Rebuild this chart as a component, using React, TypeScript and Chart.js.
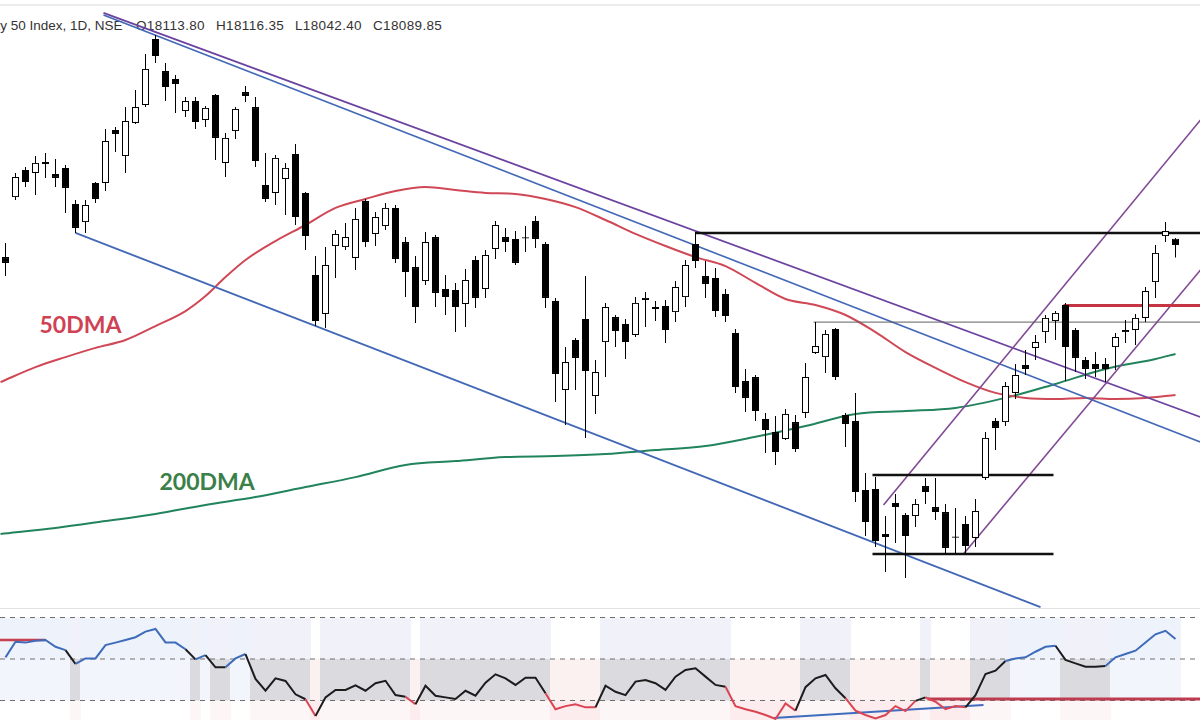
import React, { useEffect, useRef } from "react";
import { Chart, registerables } from "chart.js";
Chart.register(...registerables);

// ---- price candles (Nifty 50, daily) ----
const opens = [18044,18272,18375,18364,18398,18360,18383,18246,18177,18326,
18326,18527,18428,18554,18622,18873,18751,18721,18599,18637,
18565,18660,18402,18523,18671,18614,18318,18288,18341,18436,
18288,17976,17828,18086,18082,18041,18257,18132,18162,18231,
18101,18006,17953,18120,17923,17919,17866,18033,17923,18075,
18120,18113,18115,18181,18094,17877,17539,17729,17809,17516,
17721,17816,17790,17748,17881,17847,17858,17835,17892,18094,
17972,17965,17904,17756,17573,17588,17429,17379,17353,17417,
17452,17680,17664,17771,17444,17421,17159,17163,16992,17110,
17064,17060,17174,17094,17075,16982,17030,16977,17205,17421,
17417,17528,17634,17699,17759,17801,17862,17767,17653,17638,
17638,17702,17759,17767,17813,17949,18124,18113.8];

const highs = [18098,18364,18386,18428,18440,18417,18394,18261,18261,18329,
18531,18538,18614,18679,18816,18888,18782,18736,18652,18652,
18618,18664,18516,18614,18694,18652,18440,18432,18402,18474,
18291,18048,18082,18147,18174,18231,18265,18215,18250,18242,
18120,18048,18139,18128,17976,17946,17999,18048,18071,18181,
18155,18143,18162,18200,18101,17889,17702,17737,17972,17653,
17870,17824,17809,17892,17911,17877,17881,17953,18033,18139,
18029,18003,17923,17771,17619,17596,17452,17440,17467,17444,
17642,17797,17767,17775,17452,17528,17224,17208,17060,17144,
17072,17125,17205,17205,17106,17091,17060,17125,17379,17433,
17569,17638,17691,17748,17824,17839,17870,17775,17664,17683,
17661,17756,17805,17828,17930,18090,18177,18116.35];

const lows = [17972,18261,18310,18280,18345,18310,18212,18136,18136,18250,
18295,18443,18364,18550,18614,18782,18637,18592,18576,18531,
18538,18413,18348,18493,18633,18386,18253,18242,18204,18166,
18071,17782,17775,17965,18071,17995,18082,18086,18147,18022,
17892,17794,17938,17854,17824,17759,17778,17851,17889,18037,
18063,18014,18063,18079,17851,17493,17406,17539,17357,17448,
17588,17702,17657,17740,17778,17801,17718,17797,17854,18003,
17889,17816,17797,17528,17455,17421,17300,17254,17349,17303,
17433,17676,17604,17577,17322,17113,16984,16942,16847,16958,
16825,17018,17106,17045,16916,16916,16916,16942,17197,17311,
17402,17505,17596,17653,17718,17729,17573,17607,17581,17588,
17569,17615,17718,17710,17797,17889,18101,18042.4];

const closes = [18022,18348,18329,18402,18405,18345,18307,18155,18242,18265,
18485,18512,18561,18614,18759,18808,18690,18702,18637,18557,
18611,18497,18497,18607,18656,18409,18265,18421,18383,18196,
18124,17801,18014,18132,18120,18189,18101,18196,18231,18037,
17987,17854,18101,17908,17892,17854,17957,17889,18052,18166,
18101,18022,18119,18113,17889,17600,17645,17661,17611,17607,
17854,17763,17721,17870,17889,17854,17767,17930,18014,18029,
17942,17839,17820,17550,17509,17459,17387,17303,17448,17315,
17588,17706,17752,17588,17410,17151,17037,16965,16980,17094,
16984,17106,17151,17075,16939,16978,16946,17079,17357,17395,
17554,17596,17619,17721,17813,17832,17702,17661,17619,17619,
17619,17740,17767,17813,17915,18060,18143,18089.85];

// ---- moving averages, sampled along the bar index ----
const ma50Index = [-0.5,3,6,9,12,15,18,20,22,24,27,30,33,36,39,42,45,48,51,54,57,60,63,66,69,72,75,78,81,84,87,90,93,96,99,102,105,108,111,114,117];
const ma50Values = [17569,17626,17664,17699,17729,17782,17839,17896,17968,18033,18105,18166,18231,18265,18295,18310,18299,18288,18284,18265,18234,18185,18132,18086,18044,18010,17946,17885,17862,17824,17759,17683,17623,17569,17528,17509,17505,17509,17505,17509,17520];
const ma200Index = [-0.5,5,10,15,20,25,30,35,40,45,50,55,60,65,70,75,80,85,90,95,100,105,110,115,117];
const ma200Values = [16992,17015,17041,17068,17102,17132,17170,17208,17254,17269,17284,17288,17296,17311,17326,17361,17402,17448,17459,17471,17509,17562,17619,17657,17676];

// ---- RSI (14) ----
const rsiValues = [60.8,68.3,67.9,68.8,69.2,65.9,64.3,57.6,60.3,60.3,
66.7,67.9,69.2,70.5,73.2,74.5,68.0,67.9,64.7,59.8,
61.9,56.0,56.0,60.3,62.4,50.4,44.7,50.7,49.4,43.0,
40.6,32.5,41.5,45.1,45.1,47.3,44.7,48.3,49.5,42.6,
41.8,38.2,47.1,42.3,41.5,40.7,44.7,42.3,48.6,52.6,
50.7,47.5,51.0,51.0,43.5,35.8,37.3,38.2,36.7,36.7,
47.1,44.2,42.6,49.1,49.9,48.3,45.1,51.5,54.7,55.5,
51.5,47.5,46.6,37.3,35.8,34.6,33.0,31.1,38.6,35.1,
46.4,50.7,52.3,45.9,41.1,35.1,33.0,31.4,33.0,37.3,
34.9,39.8,41.5,39.4,35.8,37.3,36.7,42.6,52.8,54.4,
59.0,60.2,60.8,63.5,65.9,66.4,59.6,57.9,56.3,56.3,
56.6,60.8,62.4,64.0,68.0,71.9,73.6,69.6];
const rsiLevels = [80, 60, 40];

// ---- drawn lines: [startIndex, startValue, endIndex, endValue] ----
const upperPurpleLine = [9.8, 18972, 119.5, 17436];
const upperBlueLine = [9.8, 18964, 119.5, 17341];
const lowerBlueLine = [7, 18136, 103.5, 16714];
const channelTop = [87.8, 17102, 119.5, 18565];
const channelBottom = [95.8, 16916, 119.5, 17995];
const resistanceLine = [69, 18136, 119.5, 18136];
const rangeTop = [86.7, 17216, 104.8, 17216];
const rangeBottom = [86.7, 16916, 104.8, 16916];
const thinLevel = [80.8, 17797, 119.5, 17797];
const redLevel = [105.8, 17860, 119.5, 17860];
const rsiRedLeft = [-0.6, 69.2, 4, 69.2];
const rsiRedRight = [92.2, 40.7, 119.5, 40.7];
const rsiBlueLine = [76.8, 31.6, 97.8, 37.8];

// header values
const headerName = "Nifty 50 Index, 1D, NSE";
const headerOHLC = ["O18113.80", "H18116.35", "L18042.40", "C18089.85"];

// ---- view ----
const X_MIN = -0.55, X_MAX = 119.45;
const P_MIN = 16706.8, P_MAX = 19021;
const R_MIN = 30.6, R_MAX = 84.1;

const seg = (p: number[], color: string, width: number, order: number, dash: number[] = []) => ({
  type: "line",
  data: [{ x: p[0], y: p[1] }, { x: p[2], y: p[3] }],
  borderColor: color,
  borderWidth: width,
  borderDash: dash,
  pointRadius: 0,
  tension: 0,
  fill: false,
  order,
});

const xScale = { type: "linear", min: X_MIN, max: X_MAX, display: false, offset: false };

const rsiState = (v: number) => (v > 60 ? 2 : v < 40 ? 0 : 1);
const rsiColor = (v: number) => (v > 60 ? "rgb(62,108,186)" : v < 40 ? "rgb(220,68,84)" : "#1c1c1c");

export default function App() {
  const mainRef = useRef<HTMLCanvasElement>(null);
  const rsiRef = useRef<HTMLCanvasElement>(null);

  useEffect(() => {
    const idx = opens.map((_, i) => i);
    const main = new Chart(mainRef.current as HTMLCanvasElement, {
      type: "bar",
      data: {
        datasets: [
          {
            type: "bar",
            data: idx.map((i) => ({ x: i, y: [opens[i], closes[i]] })),
            backgroundColor: idx.map((i) => (closes[i] >= opens[i] ? "#ffffff" : "#000000")),
            borderColor: "#000000",
            borderWidth: 1,
            borderSkipped: false,
            barThickness: 7,
            grouped: false,
            minBarLength: 1,
            inflateAmount: 0,
            order: 0,
          },
          {
            type: "bar",
            data: idx.map((i) => ({ x: i, y: [lows[i], highs[i]] })),
            backgroundColor: "#000000",
            borderWidth: 0,
            barThickness: 1,
            grouped: false,
            inflateAmount: 0,
            order: 1,
          },
          seg(resistanceLine, "#111111", 2.5, 2),
          seg(rangeTop, "#111111", 2.5, 2),
          seg(rangeBottom, "#111111", 2.5, 2),
          seg(thinLevel, "rgb(95,95,95)", 1, 2),
          seg(redLevel, "rgb(196,52,66)", 3, 2),
          seg(channelTop, "rgb(128,72,148)", 1.6, 3),
          seg(channelBottom, "rgb(128,72,148)", 1.6, 3),
          seg(upperPurpleLine, "rgb(108,66,160)", 1.7, 3),
          seg(upperBlueLine, "rgb(66,104,182)", 1.7, 3),
          seg(lowerBlueLine, "rgb(66,104,182)", 1.7, 3),
          {
            type: "line",
            data: ma50Index.map((x, i) => ({ x, y: ma50Values[i] })),
            borderColor: "rgb(208,72,86)",
            borderWidth: 2,
            pointRadius: 0,
            cubicInterpolationMode: "monotone",
            fill: false,
            order: 4,
          },
          {
            type: "line",
            data: ma200Index.map((x, i) => ({ x, y: ma200Values[i] })),
            borderColor: "rgb(34,132,92)",
            borderWidth: 2,
            pointRadius: 0,
            cubicInterpolationMode: "monotone",
            fill: false,
            order: 4,
          },
        ],
      },
      options: {
        responsive: false,
        animation: false,
        events: [],
        layout: { padding: 0 },
        plugins: { legend: { display: false }, tooltip: { enabled: false } },
        scales: {
          x: xScale,
          y: { type: "linear", min: P_MIN, max: P_MAX, display: false },
        },
      },
    } as any);

    const upperBand = ["rgba(255,255,255,0)", "rgb(241,241,249)", "rgb(238,242,251)"];
    const middleBand = ["rgb(252,241,241)", "rgb(219,218,223)", "rgb(242,245,251)"];
    const lowerBand = ["rgb(252,236,237)", "rgb(253,246,246)", "rgba(255,255,255,0)"];
    const band = (lo: number, hi: number, colors: string[]) => ({
      type: "bar",
      data: idx.map((i) => ({ x: i, y: [lo, hi] })),
      backgroundColor: idx.map((i) => colors[rsiState(rsiValues[i])]),
      borderWidth: 0,
      barThickness: 11,
      grouped: false,
      inflateAmount: 0,
      order: 10,
    });

    const sub = new Chart(rsiRef.current as HTMLCanvasElement, {
      type: "bar",
      data: {
        datasets: [
          band(rsiLevels[1], rsiLevels[0], upperBand),
          band(rsiLevels[2], rsiLevels[1], middleBand),
          band(R_MIN - 5, rsiLevels[2], lowerBand),
          ...rsiLevels.map((lv) => seg([X_MIN, lv, X_MAX, lv], "rgb(110,110,110)", 1, 6, [5, 5])),
          seg(rsiRedLeft, "rgb(200,64,78)", 2.5, 3),
          seg(rsiRedRight, "rgb(190,60,80)", 3, 3),
          seg(rsiBlueLine, "rgb(62,108,190)", 2, 3),
          {
            type: "line",
            data: idx.map((i) => ({ x: i, y: rsiValues[i] })),
            borderColor: "#1c1c1c",
            borderWidth: 2,
            pointRadius: 0,
            tension: 0,
            fill: false,
            segment: { borderColor: (c: any) => rsiColor(c.p1.parsed.y) },
            order: 1,
          },
        ],
      },
      options: {
        responsive: false,
        animation: false,
        events: [],
        layout: { padding: 0 },
        plugins: { legend: { display: false }, tooltip: { enabled: false } },
        scales: {
          x: xScale,
          y: { type: "linear", min: R_MIN, max: R_MAX, display: false },
        },
      },
    } as any);

    return () => {
      main.destroy();
      sub.destroy();
    };
  }, []);

  const headerFont: React.CSSProperties = {
    position: "absolute",
    top: 18.6,
    font: "13.5px 'Liberation Sans', Arial, sans-serif",
    lineHeight: "13.5px",
    color: "#333333",
    whiteSpace: "pre",
  };
  const ohlcLeft = [136, 216, 295, 373];
  const labelFont: React.CSSProperties = {
    position: "absolute",
    font: "bold 23px Lato, sans-serif",
    lineHeight: "23px",
    whiteSpace: "pre",
  };

  return (
    <div style={{ position: "fixed", left: 0, top: 0, width: 1200, height: 720, overflow: "hidden", background: "#ffffff" }}>
      <div style={{ position: "absolute", left: 0, top: 4, width: 1200, height: 2, background: "#ececec" }} />
      <div style={{ ...headerFont, left: -20 }}>{headerName}</div>
      {headerOHLC.map((t, i) => (
        <div key={t} style={{ ...headerFont, left: ohlcLeft[i], letterSpacing: "0.35px" }}>{t}</div>
      ))}
      <div style={{ ...labelFont, left: 39.5, top: 312.6, color: "rgb(206,66,84)" }}>50DMA</div>
      <div style={{ ...labelFont, left: 159.5, top: 469.6, color: "rgb(58,128,72)" }}>200DMA</div>
      <canvas ref={mainRef} width={1200} height={609} style={{ position: "absolute", left: 0, top: 0 }} />
      <div style={{ position: "absolute", left: 0, top: 608, width: 1200, height: 1, background: "#e2e2e2" }} />
      <canvas ref={rsiRef} width={1200} height={111} style={{ position: "absolute", left: 0, top: 609 }} />
    </div>
  );
}
